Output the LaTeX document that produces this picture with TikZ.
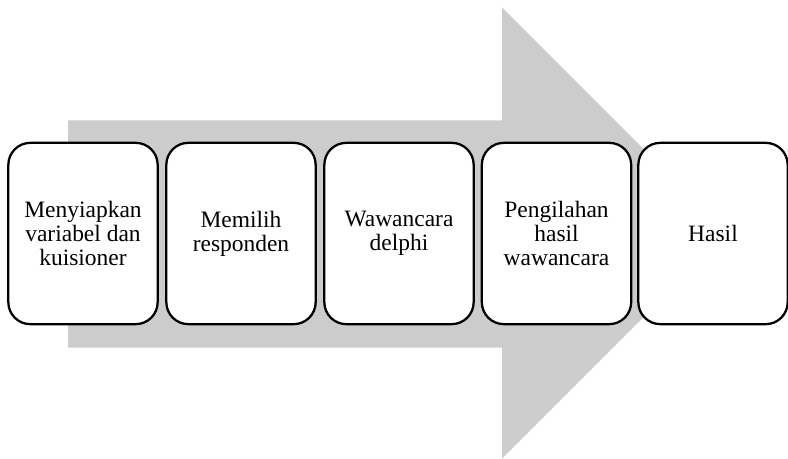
\documentclass[tikz,border=0pt]{standalone}
\usepackage{fontspec}
\setmainfont{Liberation Serif}
\begin{document}
\begin{tikzpicture}[x=0.75pt,y=-0.75pt,
  stepbox/.style={draw=black, fill=white, line width=1.7pt, rounded corners=16.5pt,
    minimum width=112pt, minimum height=136pt, inner sep=0pt, align=center,
    font=\fontsize{17.6pt}{18pt}\selectfont}]
\useasboundingbox (0,0) rectangle (788,459);
\fill[fill={rgb,255:red,204;green,204;blue,204}]
  (68,120.5) -- (502,120.5) -- (502,7.5) -- (727.5,233) -- (502,458.5) -- (502,347.5) -- (68,347.5) -- cycle;
\node[stepbox] (b1) at (83,233.5) {Menyiapkan\\variabel dan\\kuisioner};
\node[stepbox] (b2) at (241,233.5) {Memilih\\responden};
\node[stepbox] (b3) at (399,233.5) {Wawancara\\delphi};
\node[stepbox] (b4) at (556.5,233.5) {Pengilahan\\hasil\\wawancara};
\node[stepbox] (b5) at (713,233.5) {Hasil};
\end{tikzpicture}
\end{document}
